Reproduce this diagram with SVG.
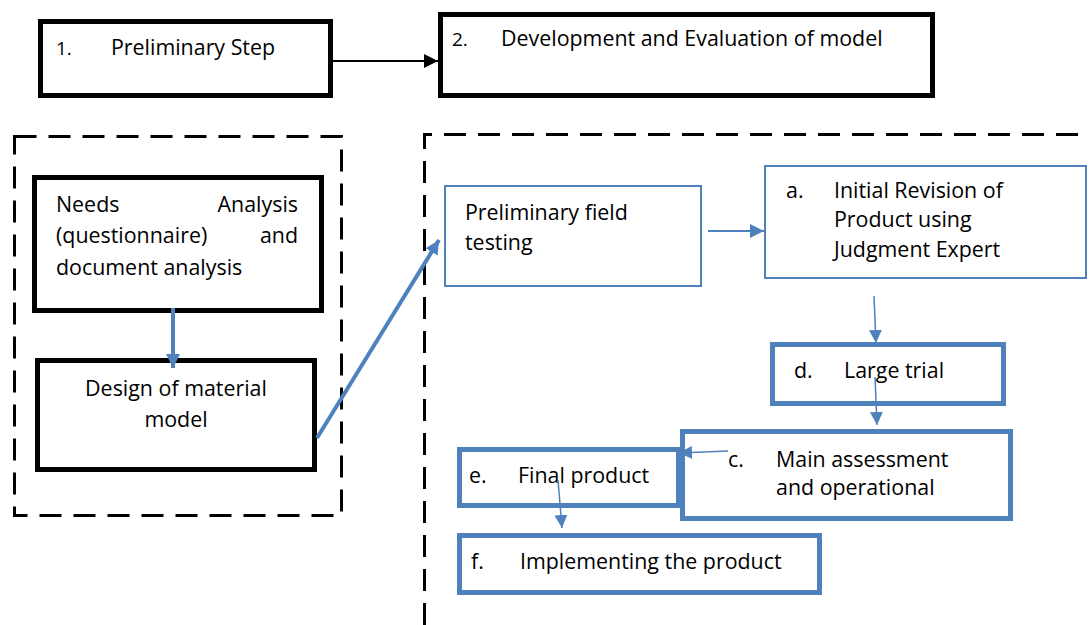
<svg xmlns="http://www.w3.org/2000/svg" width="1089" height="625" viewBox="0 0 1089 625">
<style>
text{font-family:"Open Sans","Liberation Sans",sans-serif;font-size:21.4px;fill:#000}
text.num{font-size:19px}
.blk{fill:#fff;stroke:#000;stroke-width:5}
.thin{fill:#fff;stroke:#4f81bd;stroke-width:2}
.thick{fill:#fff;stroke:#4f81bd;stroke-width:5}
.dash{fill:none;stroke:#000;stroke-width:3;stroke-dasharray:22 12}
.bl{stroke:#4f81bd;fill:none}
</style>
<defs>
<marker id="ak" markerUnits="userSpaceOnUse" markerWidth="14" markerHeight="14" refX="14" refY="7" orient="auto"><path d="M0,0 L14,7 L0,14 z" fill="#000"/></marker>
<marker id="ab" markerUnits="userSpaceOnUse" markerWidth="14" markerHeight="14" refX="14" refY="7" orient="auto"><path d="M0,0 L14,7 L0,14 z" fill="#4f81bd"/></marker>
<marker id="abs" markerUnits="userSpaceOnUse" markerWidth="13" markerHeight="13" refX="13" refY="6.5" orient="auto"><path d="M0,0 L13,6.5 L0,13 z" fill="#4f81bd"/></marker>
</defs>
<g id="groups">
<rect class="dash" x="14.5" y="136.5" width="327" height="379"/>
<path class="dash" d="M424.5,625 V134.5 H1089"/>
</g>
<g id="step1"><rect class="blk" x="40.5" y="21.5" width="290" height="74"/><text class="num" x="56" y="55">1.</text><text x="111" y="55">Preliminary Step</text></g>
<g id="step2"><rect class="blk" x="440.5" y="14.5" width="492" height="81"/><text class="num" x="452" y="46">2.</text><text x="501" y="46">Development and Evaluation of model</text></g>
<g id="needs"><rect class="blk" x="34.5" y="177.5" width="287" height="133"/>
<text x="56" y="212">Needs</text><text x="298" y="212" text-anchor="end">Analysis</text>
<text x="56" y="243">(questionnaire)</text><text x="298" y="243" text-anchor="end">and</text>
<text x="56" y="275">document analysis</text></g>
<g id="design"><rect class="blk" x="37.5" y="360.5" width="277" height="109"/>
<text x="176" y="396" text-anchor="middle">Design of material</text><text x="176" y="427" text-anchor="middle">model</text></g>
<g id="prelim"><rect class="thin" x="445" y="186" width="256" height="100"/><text x="465" y="220">Preliminary field</text><text x="465" y="250">testing</text></g>
<g id="initial"><rect class="thin" x="765" y="166" width="321" height="112"/><text x="786" y="198">a.</text><text x="834" y="198">Initial Revision of</text><text x="834" y="227">Product using</text><text x="834" y="257">Judgment Expert</text></g>
<g id="large"><rect class="thick" x="772.5" y="344.5" width="231" height="59"/><text x="794" y="378">d.</text><text x="844" y="378">Large trial</text></g>
<g id="final"><rect class="thick" x="459.5" y="449.5" width="219" height="56"/><text x="469" y="483">e.</text><text x="518" y="483">Final product</text></g>
<g id="main"><rect class="thick" x="682.5" y="431.5" width="328" height="87"/><text x="728" y="467">c.</text><text x="776" y="467">Main assessment</text><text x="776" y="495">and operational</text></g>
<g id="impl"><rect class="thick" x="459.5" y="535.5" width="360" height="57"/><text x="471" y="569">f.</text><text x="520" y="569">Implementing the product</text></g>
<g id="connectors">
<line x1="333" y1="61" x2="438" y2="61" stroke="#000" stroke-width="2" marker-end="url(#ak)"/>
<line class="bl" x1="173" y1="308" x2="173" y2="368" stroke-width="4" marker-end="url(#ab)"/>
<line class="bl" x1="317" y1="438" x2="439" y2="240" stroke-width="4" marker-end="url(#ab)"/>
<line class="bl" x1="708" y1="231" x2="764" y2="231" stroke-width="2" marker-end="url(#ab)"/>
<line class="bl" x1="874" y1="296" x2="876" y2="343" stroke-width="1.5" marker-end="url(#abs)"/>
<line class="bl" x1="875" y1="377" x2="877" y2="425" stroke-width="1.5" marker-end="url(#abs)"/>
<line class="bl" x1="728" y1="451" x2="679" y2="453" stroke-width="1.5" marker-end="url(#abs)"/>
<line class="bl" x1="558" y1="480" x2="562" y2="528" stroke-width="1.5" marker-end="url(#abs)"/>
</g>
</svg>
